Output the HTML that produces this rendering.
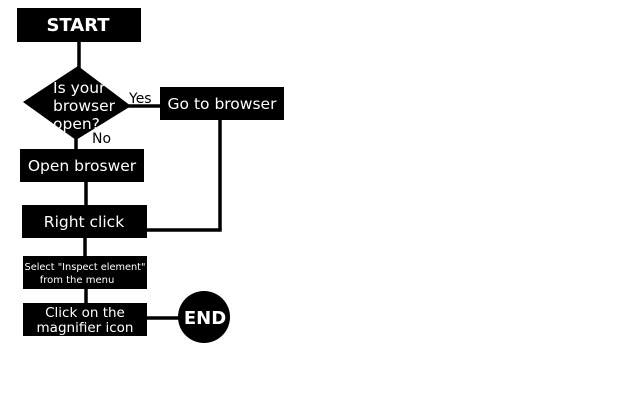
<!DOCTYPE html>
<html><head><meta charset="utf-8"><style>
html,body{margin:0;padding:0;background:#fff;width:640px;height:400px;overflow:hidden}
svg text{font-family:"DejaVu Sans","Liberation Sans",sans-serif;fill:#fff}
</style></head><body>
<svg width="640" height="400" viewBox="0 0 640 400" xmlns="http://www.w3.org/2000/svg">
<g stroke="#000" stroke-width="3.5" fill="none">
<line x1="79" y1="41" x2="79" y2="68"/>
<line x1="128" y1="106" x2="160" y2="106"/>
<line x1="76" y1="136" x2="76" y2="150"/>
<line x1="220" y1="120" x2="220" y2="230"/>
<line x1="146" y1="230" x2="221.7" y2="230"/>
<line x1="86" y1="182" x2="86" y2="206"/>
<line x1="85" y1="238" x2="85" y2="256"/>
<line x1="86" y1="288" x2="86" y2="304"/>
<line x1="146" y1="318" x2="180" y2="318"/>
</g>
<rect x="17" y="8" width="124" height="34" fill="#000"/>
<text x="78" y="31" font-size="18" font-weight="bold" text-anchor="middle">START</text>
<polygon points="23,102 78,66 131,106 76,140" fill="#000"/>
<text x="53" y="93" font-size="15.5">Is your</text>
<text x="53" y="111" font-size="15.5">browser</text>
<text x="53" y="129" font-size="15.5">open?</text>
<text x="129" y="103" font-size="14" style="fill:#000">Yes</text>
<text x="92" y="143" font-size="14" style="fill:#000">No</text>
<rect x="160" y="87" width="124" height="33" fill="#000"/>
<text x="222" y="109" font-size="15.5" text-anchor="middle">Go to browser</text>
<rect x="20" y="149" width="124" height="33" fill="#000"/>
<text x="82" y="171" font-size="15.5" text-anchor="middle">Open broswer</text>
<rect x="22" y="205" width="125" height="33" fill="#000"/>
<text x="84" y="227" font-size="15.5" text-anchor="middle">Right click</text>
<rect x="23" y="256" width="124" height="33" fill="#000"/>
<text x="85" y="270" font-size="10" text-anchor="middle" textLength="121" lengthAdjust="spacingAndGlyphs">Select "Inspect element"</text>
<text x="77" y="283" font-size="10" text-anchor="middle">from the menu</text>
<rect x="23" y="303" width="124" height="33" fill="#000"/>
<text x="85" y="317" font-size="13.5" text-anchor="middle">Click on the</text>
<text x="85" y="332" font-size="13.5" text-anchor="middle">magnifier icon</text>
<circle cx="204" cy="317" r="26" fill="#000"/>
<text x="205" y="324" font-size="18" font-weight="bold" text-anchor="middle">END</text>
</svg>
</body></html>
